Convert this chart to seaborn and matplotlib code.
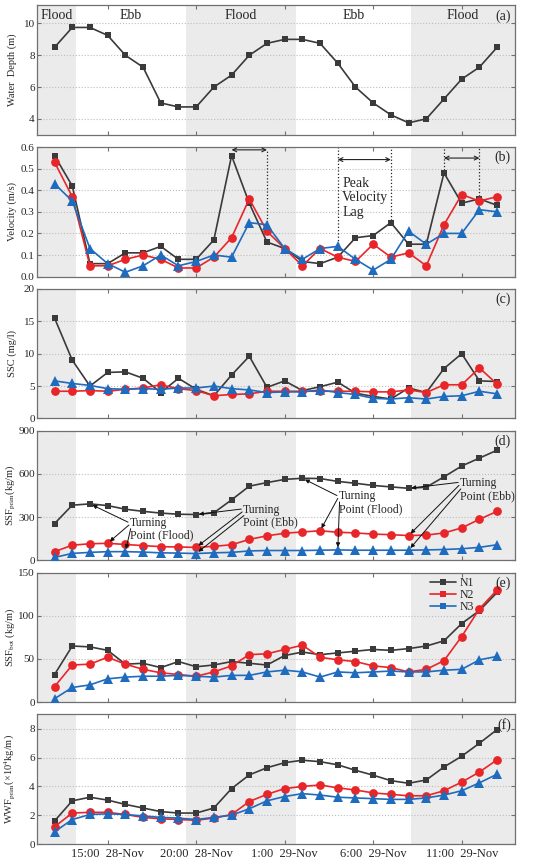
import numpy as np
import pandas as pd
import seaborn as sns
import matplotlib.pyplot as plt
from matplotlib.lines import Line2D

# hourly samples, 12:00 28-Nov to 13:00 29-Nov
hours = list(range(26))
tick_pos = [3, 8, 13, 18, 23]
tick_labels = ['15:00  28-Nov', '20:00  28-Nov', '1:00  29-Nov', '6:00  29-Nov', '11:00  29-Nov']

# tide phases (flood shaded)
phase_edges = [-1, 1.2, 7.4, 13.65, 20.15, 26]
phase_names = ['Flood', 'Ebb', 'Flood', 'Ebb', 'Flood']

depth = [8.5, 9.75, 9.75, 9.25, 8.0, 7.25, 5.0, 4.75, 4.75, 6.0, 6.75, 8.0, 8.75,
         9.0, 9.0, 8.75, 7.5, 6.0, 5.0, 4.25, 3.75, 4.0, 5.25, 6.5, 7.25, 8.5]

vel_n1 = [0.56, 0.42, 0.06, 0.06, 0.11, 0.11, 0.14, 0.08, 0.08, 0.17, 0.56, 0.34, 0.16,
          0.13, 0.07, 0.06, 0.09, 0.18, 0.19, 0.25, 0.15, 0.15, 0.48, 0.34, 0.36, 0.33]
vel_n2 = [0.53, 0.37, 0.05, 0.05, 0.08, 0.10, 0.08, 0.04, 0.04, 0.09, 0.18, 0.36, 0.21,
          0.13, 0.05, 0.13, 0.09, 0.07, 0.15, 0.09, 0.11, 0.05, 0.24, 0.38, 0.35, 0.37]
vel_n3 = [0.43, 0.35, 0.13, 0.06, 0.02, 0.05, 0.10, 0.05, 0.07, 0.10, 0.09, 0.25, 0.24,
          0.13, 0.08, 0.13, 0.14, 0.08, 0.03, 0.08, 0.21, 0.15, 0.20, 0.20, 0.31, 0.30]

ssc_n1 = [15.5, 9.0, 5.0, 7.1, 7.2, 6.2, 4.0, 6.2, 4.5, 3.5, 6.7, 9.6, 4.8,
          5.8, 4.3, 4.9, 5.6, 3.9, 3.4, 3.0, 4.7, 4.0, 7.7, 10.0, 5.8, 5.7]
ssc_n2 = [4.2, 4.2, 4.3, 4.2, 4.5, 4.7, 5.2, 4.6, 4.3, 3.5, 3.7, 3.8, 4.2,
          4.2, 4.2, 4.2, 4.2, 4.2, 4.1, 4.1, 4.4, 4.0, 5.2, 5.2, 7.8, 5.3]
ssc_n3 = [5.8, 5.4, 5.1, 4.6, 4.5, 4.6, 4.5, 4.7, 4.7, 5.0, 4.6, 4.4, 4.0,
          4.1, 4.1, 4.4, 4.0, 3.7, 3.1, 3.0, 3.2, 3.0, 3.4, 3.5, 4.2, 3.8]

ssfp_n1 = [255, 383, 392, 380, 355, 340, 328, 320, 318, 330, 420, 515, 540,
           562, 570, 568, 548, 535, 520, 510, 500, 508, 580, 655, 710, 765]
ssfp_n2 = [60, 105, 115, 118, 110, 102, 95, 92, 90, 97, 108, 145, 170,
           188, 197, 205, 195, 190, 182, 178, 172, 175, 190, 225, 285, 340]
ssfp_n3 = [20, 48, 55, 60, 60, 57, 52, 50, 47, 52, 55, 65, 68,
           68, 68, 70, 72, 70, 70, 70, 70, 72, 75, 80, 90, 108]

ssfb_n1 = [32, 65, 64, 60, 44, 45, 40, 47, 41, 43, 47, 45, 43,
           54, 58, 55, 57, 59, 61, 60, 62, 65, 71, 91, 106, 127]
ssfb_n2 = [18, 43, 44, 52, 44, 38, 34, 32, 30, 35, 42, 55, 56,
           61, 66, 52, 49, 47, 42, 40, 35, 38, 48, 76, 108, 130]
ssfb_n3 = [4, 17, 20, 27, 29, 30, 30, 31, 30, 29, 31, 31, 35,
           37, 35, 29, 35, 34, 35, 36, 35, 35, 37, 38, 49, 53]

wwf_n1 = [1.6, 3.0, 3.25, 3.05, 2.75, 2.5, 2.25, 2.15, 2.15, 2.5, 3.85, 4.8, 5.3,
          5.65, 5.82, 5.72, 5.5, 5.12, 4.78, 4.4, 4.22, 4.45, 5.35, 6.1, 7.0, 7.95]
wwf_n2 = [1.2, 2.15, 2.2, 2.2, 2.05, 1.85, 1.75, 1.7, 1.65, 1.8, 2.05, 2.95, 3.45,
          3.85, 4.0, 4.1, 3.9, 3.75, 3.55, 3.45, 3.35, 3.35, 3.7, 4.3, 5.0, 5.85]
wwf_n3 = [0.85, 1.7, 2.05, 2.1, 2.05, 1.95, 1.85, 1.8, 1.7, 1.85, 2.0, 2.45, 3.0,
          3.3, 3.5, 3.4, 3.25, 3.2, 3.15, 3.1, 3.1, 3.2, 3.4, 3.7, 4.25, 4.85]

# velocity lag pairs (index of N1 peak, index of later peak)
lag_pairs = [(10, 12), (16, 19), (22, 24)]
# turning points in SSF_prim: (text x, text y, label, [N1 idx, N2 idx, N3 idx])
turning = [(4.25, 215, 'Turning\nPoint (Flood)', [2, 3, 4]),
           (10.65, 306, 'Turning\nPoint (Ebb)', [8, 8, 8]),
           (16.05, 400, 'Turning\nPoint (Flood)', [14, 15, 16]),
           (22.9, 491, 'Turning\nPoint (Ebb)', [20, 20, 20])]

sites = ['N1', 'N2', 'N3']
colors = {'N1': '#3a3a3a', 'N2': '#e8262a', 'N3': '#1f6bbd'}
markers = {'N1': 's', 'N2': 'o', 'N3': '^'}
msizes = {'N1': 5, 'N2': 6.3, 'N3': 6.5}

sns.set_style('ticks')
plt.rcParams['font.family'] = ['Liberation Serif', 'DejaVu Serif']
plt.rcParams['mathtext.fontset'] = 'stix'

fig, axes = plt.subplots(6, 1, figsize=(5.5, 8.66), dpi=100, sharex=True)
fig.subplots_adjust(left=0.067, right=0.936, top=0.994, bottom=0.0254, hspace=0.095)


def draw_series(ax, data):
    for s, vals in zip(sites, data):
        sns.lineplot(x=hours, y=vals, color=colors[s], marker=markers[s],
                     markersize=msizes[s], markeredgewidth=0, linewidth=1.2,
                     ax=ax, zorder=3)


panels = [
    ('Water  Depth (m)', None, (3, 11.15), [4, 6, 8, 10], '(a)'),
    ('Velocity (m/s)', [vel_n1, vel_n2, vel_n3], (0, 0.6), np.arange(0, 0.61, 0.1), '(b)'),
    ('SSC (mg/l)', [ssc_n1, ssc_n2, ssc_n3], (0, 20), [0, 5, 10, 15, 20], '(c)'),
    ('SSF$_{\\rm prim}$(kg/m)', [ssfp_n1, ssfp_n2, ssfp_n3], (0, 900), [0, 300, 600, 900], '(d)'),
    ('SSF$_{\\rm bot}$ (kg/m)', [ssfb_n1, ssfb_n2, ssfb_n3], (0, 150), [0, 50, 100, 150], '(e)'),
    ('WWF$_{\\rm prim}$(×10$^{4}$kg/m)', [wwf_n1, wwf_n2, wwf_n3], (0, 9), [0, 2, 4, 6, 8], '(f)'),
]

for ax, (ylab, data, ylim, yt, tag) in zip(axes, panels):
    for i in range(0, len(phase_edges) - 1, 2):
        ax.axvspan(phase_edges[i], phase_edges[i + 1], color='#ebebeb', lw=0, zorder=0)
    if data is None:
        sns.lineplot(x=hours, y=depth, color=colors['N1'], marker='s', markersize=5,
                     markeredgewidth=0, linewidth=1.2, ax=ax, zorder=3)
    else:
        draw_series(ax, data)
    ax.set_xlim(-1, 26)
    ax.set_ylim(*ylim)
    ax.set_yticks(yt)
    ax.set_xticks(tick_pos)
    ax.set_xticklabels(tick_labels)
    ax.set_ylabel(ylab, fontsize=7.5)
    ax.yaxis.set_label_coords(-0.041, 0.5)
    ax.set_xlabel('')
    ax.grid(axis='y', linestyle=':', color='#bdbdbd', linewidth=0.8)
    ax.tick_params(direction='in', top=True, right=True, length=3, width=0.8,
                   color='#707070', labelsize=8, pad=1.5)
    for sp in ax.spines.values():
        sp.set_color('#707070')
        sp.set_linewidth(0.9)
    ax.text(0.992, 0.97, tag, transform=ax.transAxes, ha='right', va='top', fontsize=10)

axes[1].yaxis.set_major_formatter(plt.FormatStrFormatter('%.1f'))
axes[-1].tick_params(axis='x', labelsize=9, pad=3)

# tide phase names
for i, name in enumerate(phase_names):
    xc = (phase_edges[i] + phase_edges[i + 1]) / 2
    axes[0].text(xc, 10.5, name, ha='center', va='center', fontsize=10)

# peak velocity lag
ax = axes[1]
vel_max = [max(a, b, c) for a, b, c in zip(vel_n1, vel_n2, vel_n3)]
arrow_y = [0.587, 0.542, 0.549]
for (i0, i1), ya in zip(lag_pairs, arrow_y):
    ax.annotate('', xy=(i1, ya), xytext=(i0, ya),
                arrowprops=dict(arrowstyle='<->', color='#222222', lw=0.8,
                                shrinkA=0, shrinkB=0, mutation_scale=7))
    for k, idx in enumerate((i0, i1)):
        if k == 0 and i0 == lag_pairs[0][0]:
            continue
        ytop = ya if i0 == lag_pairs[0][0] else 0.6
        ax.vlines(idx, vel_max[idx] + 0.012, ytop, colors='#222222',
                  linestyles=':', lw=0.9, zorder=2)
ax.text(16.25, 0.365, 'Peak\nVelocity\nLag', ha='left', va='center',
        fontsize=10, linespacing=1.15)

# turning points
ax = axes[3]
ssfp = [ssfp_n1, ssfp_n2, ssfp_n3]
for tx, ty, lab, idxs in turning:
    ax.text(tx, ty, lab, ha='left', va='center', fontsize=8.5, linespacing=1.05)
    starts = [(tx - 0.1, ty + 50), (tx - 0.05, ty + 30), (tx + 0.05, ty + 5)]
    for (sx, sy), arr, idx in zip(starts, ssfp, idxs):
        ax.annotate('', xy=(idx, arr[idx]), xytext=(sx, sy),
                    arrowprops=dict(arrowstyle='-|>', color='#111111', lw=0.7,
                                    shrinkA=0, shrinkB=2, mutation_scale=6))

# legend
handles = [Line2D([], [], color=colors[s], marker='s', markersize=5,
                  markeredgewidth=0, lw=1.2) for s in sites]
axes[4].legend(handles, sites, loc='upper right', bbox_to_anchor=(0.93, 1.02),
               frameon=False, fontsize=8.5, labelspacing=0.0, handlelength=2.2,
               handletextpad=0.3, borderaxespad=0.2)

fig.savefig('out.png', dpi=100)
